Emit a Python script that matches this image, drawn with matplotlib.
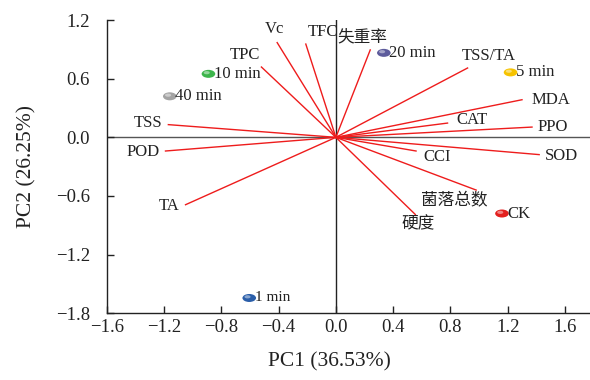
import matplotlib
matplotlib.use("Agg")
import matplotlib.pyplot as plt
from matplotlib.patches import Ellipse

plt.rcParams['font.family'] = ['Liberation Serif', 'Noto Sans CJK SC', 'DejaVu Sans']

# loadings (variables)
var_names = ["Vc", "TFC", "TPC", "TSS", "POD", "TA", "失重率", "TSS/TA", "MDA",
             "CAT", "PPO", "SOD", "CCI", "菌落总数", "硬度"]
var_x = [-0.41, -0.21, -0.52, -1.17, -1.19, -1.05, 0.24, 0.92, 1.30,
         0.78, 1.37, 1.42, 0.56, 0.98, 0.555]
var_y = [0.97, 0.955, 0.72, 0.13, -0.14, -0.69, 0.895, 0.71, 0.385,
         0.146, 0.105, -0.177, -0.14, -0.54, -0.79]

# scores (samples)
smp_names = ["10 min", "40 min", "20 min", "5 min", "CK", "1 min"]
smp_x = [-0.89, -1.16, 0.335, 1.22, 1.16, -0.605]
smp_y = [0.65, 0.42, 0.865, 0.665, -0.78, -1.645]
smp_colors = ["#3db54b", "#a3a3a3", "#5d5b9c", "#f6c300", "#e3201f", "#2a5ea9"]

xticks = [-1.6, -1.2, -0.8, -0.4, 0.0, 0.4, 0.8, 1.2, 1.6]
yticks = [-1.8, -1.2, -0.6, 0.0, 0.6, 1.2]

fig = plt.figure(figsize=(5.9, 3.8), dpi=100)
ax = fig.add_axes([0.181, 0.176, 0.819, 0.771])
ax.set_xlim(-1.6, 1.775)
ax.set_ylim(-1.8, 1.2)

ax.axhline(0, color="#555555", lw=1.0, zorder=1)
ax.axvline(0, color="#222222", lw=1.0, zorder=1)

# label offsets in points (dx, dy, ha, va)
lab_pos = {
    "Vc": (-2, 4, "center", "bottom"),
    "TFC": (12, 3, "center", "bottom"),
    "TPC": (-12, 3, "center", "bottom"),
    "TSS": (-4, 1, "right", "center"),
    "POD": (-4, -1, "right", "center"),
    "TA": (-4, -1, "right", "center"),
    "失重率": (-6, 3, "center", "bottom"),
    "TSS/TA": (15, 3, "center", "bottom"),
    "MDA": (7, 0, "left", "center"),
    "CAT": (6, 2, "left", "center"),
    "PPO": (4, 0, "left", "center"),
    "SOD": (4, -1, "left", "center"),
    "CCI": (5, -4, "left", "center"),
    "菌落总数": (-16, -2, "center", "top"),
    "硬度": (2, -1, "center", "top"),
}
for n, x, y in zip(var_names, var_x, var_y):
    ax.plot([0, x], [0, y], color="#ee1c1c", lw=1.0, zorder=2)
    dx, dy, ha, va = lab_pos[n]
    ax.annotate(n, (x, y), xytext=(dx, dy), textcoords="offset points",
                ha=ha, va=va, fontsize=12, color="#222222", zorder=4)

# sample markers as shaded ellipses
w, h = 0.095, 0.082
for n, x, y, c in zip(smp_names, smp_x, smp_y, smp_colors):
    ax.add_patch(Ellipse((x, y), w, h, facecolor=c, edgecolor="none", zorder=5))
    ax.add_patch(Ellipse((x - 0.012, y + 0.012), w * 0.45, h * 0.4,
                         facecolor="white", alpha=0.45, edgecolor="none", zorder=6))
    fs = 11 if n == "1 min" else 12
    ax.annotate(n, (x, y), xytext=(4, 0), textcoords="offset points",
                ha="left", va="center", fontsize=fs, color="#222222", zorder=6)

ax.set_xticks(xticks)
ax.set_yticks(yticks)
ax.set_xticklabels([f"{t:.1f}".replace("-", "\u2212") for t in xticks])
ax.set_yticklabels([f"{t:.1f}".replace("-", "\u2212") for t in yticks])
ax.tick_params(direction="in", length=5, width=1.0, labelsize=13.5, colors="#222222")
ax.tick_params(axis="x", pad=4)
ax.tick_params(axis="y", pad=12)
for s in ["top", "right"]:
    ax.spines[s].set_visible(False)
for s in ["left", "bottom"]:
    ax.spines[s].set_linewidth(1.0)
    ax.spines[s].set_color("#222222")

ax.set_xlabel("PC1 (36.53%)", fontsize=15.5, color="#222222")
ax.set_ylabel("PC2 (26.25%)", fontsize=15.5, color="#222222")
ax.xaxis.set_label_coords(0.46, -0.135)
ax.yaxis.set_label_coords(-0.145, 0.5)

fig.savefig("out.png", dpi=100)
